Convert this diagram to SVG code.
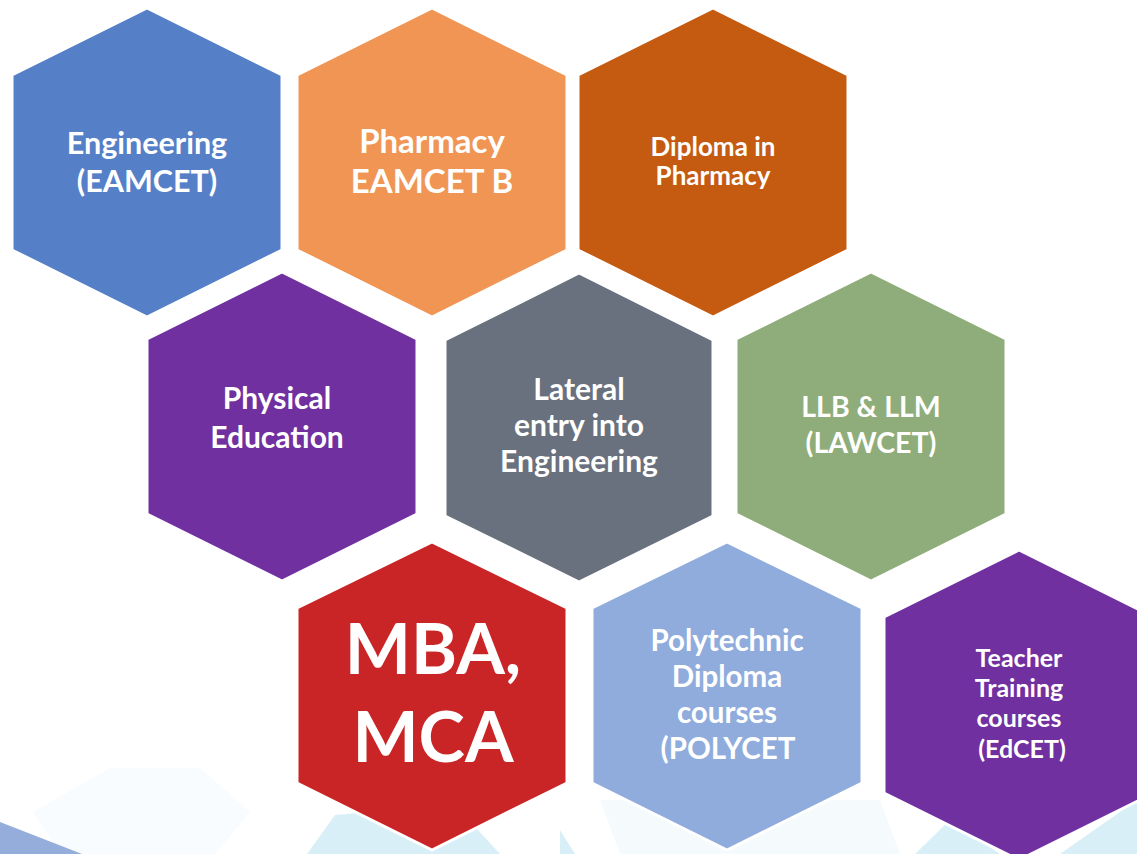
<svg xmlns="http://www.w3.org/2000/svg" width="1137" height="854" viewBox="0 0 1137 854">
<style>
.hex{stroke:#ffffff;stroke-width:3;stroke-linejoin:miter}
.t{font-family:Lato,"Open Sans","Liberation Sans",sans-serif;font-weight:bold;fill:#ffffff;text-anchor:middle}
.blue{fill:#5580C8}.orange{fill:#F09554}.rust{fill:#C55A11}.purple{fill:#7030A0}
.slate{fill:#69707E}.green{fill:#8FAD7A}.red{fill:#C92526}.lblue{fill:#8FACDC}
</style>
<rect x="0" y="0" width="1137" height="854" fill="#ffffff"/>
<g id="background">
  <polygon points="33,812 110,768 200,768 250,812 215,854 60,854" fill="#F9FCFE"/>
  <polygon points="0,822 82,854 0,854" fill="#94ADDA"/>
  <polygon points="307,854 335,815 455,805 500,854" fill="#D9EFF8"/>
  <polygon points="560,830 575,854 560,854" fill="#D9EFF8"/>
  <polygon points="600,800 880,800 900,854 620,854" fill="#F5FAFD"/>
  <polygon points="915,854 950,820 1000,854" fill="#D9EFF8"/>
  <polygon points="1060,854 1137,800 1137,854" fill="#D9EFF8"/>
</g>
<g id="connectors"/>
<g id="n-engineering">
  <polygon class="hex blue" points="147,8 282,75 282,250 147,317 12,250 12,75"/>
  <text class="t" font-size="30.5"><tspan x="147" y="154">Engineering</tspan><tspan x="147" y="192">(EAMCET)</tspan></text>
</g>
<g id="n-pharmacy">
  <polygon class="hex orange" points="432,8 567,75 567,250 432,317 297,250 297,75"/>
  <text class="t" font-size="33"><tspan x="432" y="153">Pharmacy</tspan><tspan x="432" y="193">EAMCET B</tspan></text>
</g>
<g id="n-diploma-pharmacy">
  <polygon class="hex rust" points="713,8 848,75 848,250 713,317 578,250 578,75"/>
  <text class="t" font-size="26"><tspan x="713" y="156">Diploma in</tspan><tspan x="713" y="185">Pharmacy</tspan></text>
</g>
<g id="n-physical">
  <polygon class="hex purple" points="282,272 417,339 417,514 282,581 147,514 147,339"/>
  <text class="t" font-size="30"><tspan x="277" y="409">Physical</tspan><tspan x="277" y="448">Education</tspan></text>
</g>
<g id="n-lateral">
  <polygon class="hex slate" points="579,273 713,340 713,516 579,582 445,516 445,340"/>
  <text class="t" font-size="30"><tspan x="579" y="400">Lateral</tspan><tspan x="579" y="436">entry into</tspan><tspan x="579" y="472">Engineering</tspan></text>
</g>
<g id="n-llb">
  <polygon class="hex green" points="871,272 1006,339 1006,514 871,581 736,514 736,339"/>
  <text class="t" font-size="28.5"><tspan x="871" y="417">LLB &amp; LLM</tspan><tspan x="871" y="453">(LAWCET)</tspan></text>
</g>
<g id="n-mba">
  <polygon class="hex red" points="432,542 567,608 567,783 432,850 297,783 297,608"/>
  <text class="t" font-size="70"><tspan x="433" y="674">MBA,</tspan><tspan x="433" y="762">MCA</tspan></text>
</g>
<g id="n-polytechnic">
  <polygon class="hex lblue" points="727,542 862,608 862,783 727,850 592,783 592,608"/>
  <text class="t" font-size="29.5"><tspan x="727" y="651">Polytechnic</tspan><tspan x="727" y="687">Diploma</tspan><tspan x="727" y="723">courses</tspan><tspan x="728" y="759">(POLYCET</tspan></text>
</g>
<g id="n-teacher">
  <polygon class="hex purple" points="1019,550 1154,617 1154,793 1019,860 884,793 884,617"/>
  <text class="t" font-size="25"><tspan x="1019" y="667">Teacher</tspan><tspan x="1019" y="697">Training</tspan><tspan x="1019" y="727">courses</tspan><tspan x="1022" y="758">(EdCET)</tspan></text>
</g>
</svg>
